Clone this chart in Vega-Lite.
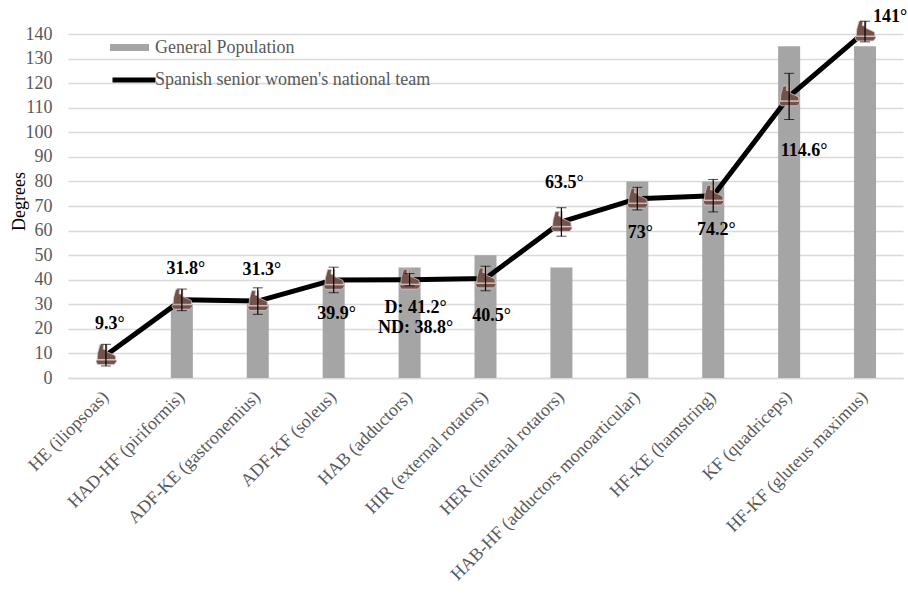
{
  "$schema": "https://vega.github.io/schema/vega-lite/v6.json",
  "width": 835,
  "height": 344,
  "autosize": {"type": "none"},
  "padding": {"left": 68, "top": 34, "right": 5, "bottom": 221},
  "background": "white",
  "config": {
    "font": "Liberation Serif",
    "view": {"stroke": null},
    "text": {"lineBreak": "\n"},
    "axisY": {
      "tickCount": 14,
      "labelFont": "Liberation Serif",
      "labelFontSize": 18,
      "labelColor": "#595959",
      "labelPadding": 16,
      "labelOverlap": false,
      "ticks": false,
      "domain": false,
      "gridColor": "#d9d9d9",
      "gridWidth": 1.5,
      "titleFont": "Liberation Serif",
      "titleFontSize": 18,
      "titleFontWeight": "normal",
      "titleColor": "black",
      "titleX": -49,
      "titleY": 167,
      "titleAngle": -90,
      "titleAlign": "center",
      "titleBaseline": "middle"
    }
  },
  "data": {
    "values": [
      {"test": "HE (iliopsoas)", "population": null, "team": 9.3, "sd": 4.4, "label": "9.3°"},
      {"test": "HAD-HF (piriformis)", "population": 30, "team": 31.8, "sd": 4.4, "label": "31.8°"},
      {"test": "ADF-KE (gastronemius)", "population": 30, "team": 31.3, "sd": 5.4, "label": "31.3°"},
      {"test": "ADF-KF (soleus)", "population": 40, "team": 39.9, "sd": 5.2, "label": "39.9°"},
      {"test": "HAB (adductors)", "population": 45, "team": 40, "sd": 2.5, "label": "D: 41.2°\nND: 38.8°"},
      {"test": "HIR (external rotators)", "population": 50, "team": 40.5, "sd": 5, "label": "40.5°"},
      {"test": "HER (internal rotators)", "population": 45, "team": 63.5, "sd": 5.8, "label": "63.5°"},
      {"test": "HAB-HF (adductors monoarticular)", "population": 80, "team": 73, "sd": 4.6, "label": "73°"},
      {"test": "HF-KE (hamstring)", "population": 80, "team": 74.2, "sd": 6.6, "label": "74.2°"},
      {"test": "KF (quadriceps)", "population": 135, "team": 114.6, "sd": 9.4, "label": "114.6°"},
      {"test": "HF-KF (gluteus maximus)", "population": 135, "team": 141, "sd": 4.2, "label": "141°"}
    ]
  },
  "encoding": {
    "x": {
      "field": "test",
      "type": "nominal",
      "sort": null,
      "title": null,
      "scale": {
        "domain": ["HE (iliopsoas)", "HAD-HF (piriformis)", "ADF-KE (gastronemius)", "ADF-KF (soleus)", "HAB (adductors)", "HIR (external rotators)", "HER (internal rotators)", "HAB-HF (adductors monoarticular)", "HF-KE (hamstring)", "KF (quadriceps)", "HF-KF (gluteus maximus)"],
        "paddingInner": 0,
        "paddingOuter": 0
      },
      "axis": {
        "labelAngle": -45,
        "labelAlign": "right",
        "labelBaseline": "middle",
        "labelFont": "Liberation Serif",
        "labelFontSize": 18,
        "labelColor": "#595959",
        "labelPadding": 16,
        "labelLimit": 400,
        "ticks": false,
        "domain": true,
        "domainColor": "#d9d9d9",
        "domainWidth": 1.5,
        "grid": false
      }
    }
  },
  "layer": [
    {
      "mark": {"type": "bar", "width": {"band": 0.29}},
      "encoding": {
        "y": {
          "field": "population",
          "type": "quantitative",
          "scale": {"domain": [0, 140]},
          "title": "Degrees"
        },
        "fill": {
          "datum": "General Population",
          "scale": {"range": ["#a5a5a5"]},
          "legend": {
            "orient": "none",
            "legendX": 42,
            "legendY": -6,
            "title": null,
            "symbolType": "M-1,-0.18L1,-0.18L1,0.18L-1,0.18Z",
            "symbolSize": 1521,
            "symbolStrokeWidth": 0,
            "labelFont": "Liberation Serif",
            "labelFontSize": 18,
            "labelColor": "#595959",
            "labelOffset": 6,
            "labelLimit": 400,
            "padding": 0
          }
        }
      }
    },
    {
      "mark": {"type": "line", "strokeWidth": 5, "strokeJoin": "round"},
      "encoding": {
        "y": {"field": "team", "type": "quantitative", "title": "Degrees"},
        "stroke": {
          "datum": "Spanish senior women's national team",
          "scale": {"range": ["black"]},
          "legend": {
            "orient": "none",
            "legendX": 42,
            "legendY": 22,
            "title": null,
            "symbolType": "stroke",
            "symbolSize": 1849,
            "symbolStrokeWidth": 5,
            "labelFont": "Liberation Serif",
            "labelFontSize": 18,
            "labelColor": "#595959",
            "labelOffset": -3,
            "labelLimit": 400,
            "padding": 0
          }
        }
      }
    },
    {
      "mark": {
        "type": "point",
        "shape": "M-0.55,-0.95L-0.2,-0.95L-0.25,-0.55L-0.05,-0.5L-0.05,-0.95L0.1,-0.95L0.1,-0.3L0.55,-0.1L0.85,0.05L0.9,0.4L-0.8,0.4L-0.75,-0.2Z M-0.85,0.45L0.95,0.45L0.95,0.6L0.75,0.85L-0.75,0.85L-0.9,0.6Z",
        "size": 484,
        "filled": true,
        "fill": "#73524c",
        "stroke": "#d8c8c4",
        "strokeWidth": 0.8,
        "opacity": 1
      },
      "encoding": {
        "y": {"field": "team", "type": "quantitative", "title": "Degrees"}
      }
    },
    {
      "mark": {"type": "errorbar", "ticks": {"size": 10, "color": "black"}, "rule": {"strokeWidth": 1.2, "color": "black"}},
      "encoding": {
        "y": {"field": "team", "type": "quantitative", "title": "Degrees"},
        "yError": {"field": "sd"}
      }
    },
    {
      "transform": [{"filter": {"field": "test", "oneOf": ["HE (iliopsoas)", "HAD-HF (piriformis)", "ADF-KE (gastronemius)"]}}],
      "mark": {"type": "text", "fontWeight": "bold", "fontSize": 18, "font": "Liberation Serif", "dy": -31, "dx": 4, "color": "black"},
      "encoding": {"y": {"field": "team", "type": "quantitative", "title": "Degrees"}, "text": {"field": "label"}}
    },
    {
      "transform": [{"filter": {"field": "test", "oneOf": ["HER (internal rotators)"]}}],
      "mark": {"type": "text", "fontWeight": "bold", "fontSize": 18, "font": "Liberation Serif", "dy": -39, "dx": 3, "color": "black"},
      "encoding": {"y": {"field": "team", "type": "quantitative", "title": "Degrees"}, "text": {"field": "label"}}
    },
    {
      "transform": [{"filter": {"field": "test", "oneOf": ["ADF-KF (soleus)", "HAB-HF (adductors monoarticular)", "HF-KE (hamstring)"]}}],
      "mark": {"type": "text", "fontWeight": "bold", "fontSize": 18, "font": "Liberation Serif", "dy": 34, "dx": 3, "color": "black"},
      "encoding": {"y": {"field": "team", "type": "quantitative", "title": "Degrees"}, "text": {"field": "label"}}
    },
    {
      "transform": [{"filter": {"field": "test", "oneOf": ["HAB (adductors)"]}}],
      "mark": {"type": "text", "fontWeight": "bold", "fontSize": 18, "font": "Liberation Serif", "dy": 28, "dx": 6, "color": "black", "lineHeight": 20},
      "encoding": {"y": {"field": "team", "type": "quantitative", "title": "Degrees"}, "text": {"field": "label"}}
    },
    {
      "transform": [{"filter": {"field": "test", "oneOf": ["HIR (external rotators)"]}}],
      "mark": {"type": "text", "fontWeight": "bold", "fontSize": 18, "font": "Liberation Serif", "dy": 38, "dx": 6, "color": "black"},
      "encoding": {"y": {"field": "team", "type": "quantitative", "title": "Degrees"}, "text": {"field": "label"}}
    },
    {
      "transform": [{"filter": {"field": "test", "oneOf": ["KF (quadriceps)"]}}],
      "mark": {"type": "text", "fontWeight": "bold", "fontSize": 18, "font": "Liberation Serif", "dy": 55, "dx": 15, "color": "black"},
      "encoding": {"y": {"field": "team", "type": "quantitative", "title": "Degrees"}, "text": {"field": "label"}}
    },
    {
      "transform": [{"filter": {"field": "test", "oneOf": ["HF-KF (gluteus maximus)"]}}],
      "mark": {"type": "text", "fontWeight": "bold", "fontSize": 18, "font": "Liberation Serif", "dy": -15, "dx": 25, "color": "black"},
      "encoding": {"y": {"field": "team", "type": "quantitative", "title": "Degrees"}, "text": {"field": "label"}}
    }
  ]
}
